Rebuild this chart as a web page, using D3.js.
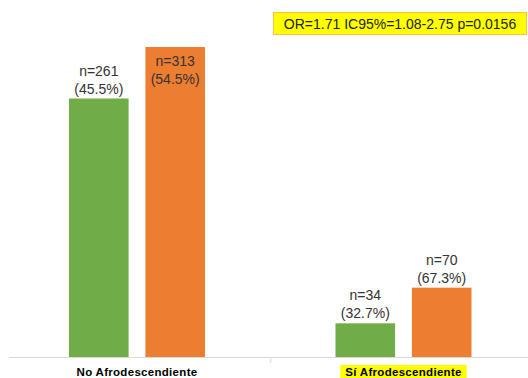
<!DOCTYPE html>
<html>
<head>
<meta charset="utf-8">
<script src="https://cdn.jsdelivr.net/npm/d3@7"></script>
<style>
  body { margin: 0; background: #fff; }
  svg { font-family: "Liberation Sans", Arial, sans-serif; }
</style>
</head>
<body>
<svg width="528" height="378"></svg>
<script>
var categories = ["No Afrodescendiente", "Sí Afrodescendiente"],
    series = ["grupo1", "grupo2"],
    counts = [[261, 313], [34, 70]],
    percents = ["45.5%", "54.5%", "32.7%", "67.3%"],
    annotation = "OR=1.71 IC95%=1.08-2.75 p=0.0156";

var colors = ["#70ad47", "#ed7d31"];

var svg = d3.select("svg"),
    baseline = 357;

var x0 = d3.scaleBand().domain(categories).range([3.75, 536.75]);
var x1 = d3.scaleBand().domain(series).range([0, 136]).paddingInner(0.22);
var y = d3.scaleLinear().domain([0, 313]).range([baseline, 47]);

// axis line
svg.append("line")
    .attr("x1", 9).attr("x2", 528)
    .attr("y1", baseline + 0.5).attr("y2", baseline + 0.5)
    .attr("stroke", "#d9d9d9");
svg.append("line")
    .attr("x1", x0(categories[1]) + 0.5).attr("x2", x0(categories[1]) + 0.5)
    .attr("y1", baseline).attr("y2", baseline + 6)
    .attr("stroke", "#d9d9d9");

var groups = svg.selectAll("g.grp")
    .data(categories)
    .enter().append("g")
    .attr("class", "grp")
    .attr("transform", function(d) {
        return "translate(" + (x0(d) + x0.bandwidth() / 2 - 68) + ",0)";
    });

groups.each(function(cat, ci) {
    var g = d3.select(this);
    series.forEach(function(s, si) {
        var v = counts[ci][si];
        var bx = x1(s), bw = x1.bandwidth();
        g.append("rect")
            .attr("x", bx).attr("width", bw)
            .attr("y", y(v)).attr("height", baseline - y(v))
            .attr("fill", colors[si]);
        var top = y(v);
        var inside = top < 70;
        var b1 = inside ? top + 19 : top - 23;
        var b2 = inside ? top + 37 : top - 5;
        var t = g.append("text")
            .attr("text-anchor", "middle")
            .attr("font-size", 14)
            .attr("fill", "#333");
        t.append("tspan").attr("x", bx + bw / 2).attr("y", b1).text("n=" + v);
        t.append("tspan").attr("x", bx + bw / 2).attr("y", b2).text("(" + percents[ci * 2 + si] + ")");
    });
});

// category labels
categories.forEach(function(c, i) {
    var cx = x0(c) + x0.bandwidth() / 2;
    var hl = svg.append("rect").attr("fill", i === 1 ? "#ffff00" : "none");
    var t = svg.append("text")
        .attr("x", cx).attr("y", 376)
        .attr("text-anchor", "middle")
        .attr("font-size", 11.5)
        .attr("font-weight", "bold")
        .attr("letter-spacing", 0.3)
        .attr("fill", "#000")
        .text(c);
    var bb = t.node().getBBox();
    hl.attr("x", bb.x - 5).attr("y", 365)
        .attr("width", bb.width + 10).attr("height", 14);
});

// annotation box
svg.append("rect")
    .attr("x", 273.5).attr("y", 12.5)
    .attr("width", 253).attr("height", 22)
    .attr("fill", "#ffff00")
    .attr("stroke", "#f5c242");
svg.append("text")
    .attr("x", 400).attr("y", 29)
    .attr("text-anchor", "middle")
    .attr("font-size", 14)
    .attr("fill", "#222")
    .text(annotation);
</script>
</body>
</html>
